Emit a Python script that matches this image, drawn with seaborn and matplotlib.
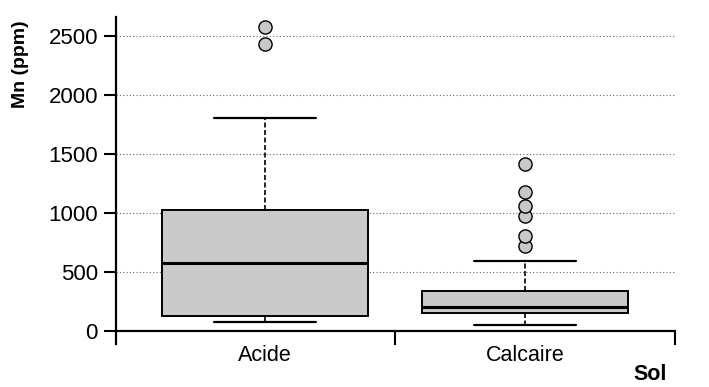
import pandas as pd
import matplotlib.pyplot as plt
import seaborn as sns

# five-number summaries (ppm)
sols = ["Acide", "Calcaire"]
acide_stats = [80, 130, 575, 1030, 1810]      # low whisker, Q1, median, Q3, high whisker
calcaire_stats = [50, 152, 202, 337, 590]
acide_outliers = [2436, 2580]
calcaire_outliers = [725, 810, 978, 1062, 1180, 1416]

y_ticks = [0, 500, 1000, 1500, 2000, 2500]

box_df = pd.DataFrame({
    "Sol": [sols[0]] * len(acide_stats) + [sols[1]] * len(calcaire_stats),
    "Mn": acide_stats + calcaire_stats,
})
out_df = pd.DataFrame({
    "Sol": [sols[0]] * len(acide_outliers) + [sols[1]] * len(calcaire_outliers),
    "Mn": acide_outliers + calcaire_outliers,
})

sns.set_style("white")
plt.rcParams["font.family"] = ["Liberation Sans", "DejaVu Sans"]
plt.rcParams["text.color"] = "black"
plt.rcParams["axes.labelcolor"] = "black"
plt.rcParams["xtick.color"] = "black"
plt.rcParams["ytick.color"] = "black"

fig = plt.figure(figsize=(7.09, 3.87), dpi=100)
ax = fig.add_axes([116 / 709, 1 - 331 / 387, 559 / 709, 314 / 387])

for y in y_ticks[1:]:
    ax.axhline(y, color="#666666", lw=0.8, ls=(0, (1, 2)), zorder=0)

sns.boxplot(
    data=box_df, x="Sol", y="Mn", order=sols, whis=(0, 100), width=0.79,
    color="#cacaca", saturation=1, linecolor="black", linewidth=1.4,
    medianprops={"linewidth": 2.2, "color": "black"},
    whiskerprops={"linestyle": (0, (3, 1.5)), "linewidth": 1.2},
    capprops={"linewidth": 1.6},
    ax=ax, zorder=2,
)
sns.stripplot(
    data=out_df, x="Sol", y="Mn", order=sols, jitter=False, size=9.5,
    color="#c8c8c8", edgecolor="black", linewidth=1.0, ax=ax, zorder=3,
)

ax.set_xlim(-0.573, 1.577)
ax.set_ylim(0, 2664)

ax.set_yticks(y_ticks)
ax.set_yticklabels([str(v) for v in y_ticks], fontsize=16)
ax.tick_params(axis="y", direction="out", length=9, width=1.5, left=True, pad=4)

# category labels centred under boxes, tick marks between categories
ax.set_xticks([0.5, 1.577])
ax.set_xticklabels(["", ""])
ax.set_xticks([0, 1], minor=True)
ax.set_xticklabels(sols, minor=True, fontsize=15.5)
ax.tick_params(axis="x", which="major", direction="out", length=10, width=1.5, bottom=True)
ax.tick_params(axis="x", which="minor", length=0, pad=10)

for side in ["top", "right"]:
    ax.spines[side].set_visible(False)
for side in ["left", "bottom"]:
    ax.spines[side].set_linewidth(1.6)
    ax.spines[side].set_color("black")
ax.spines["left"].set_bounds(-110, 2664)

ax.set_xlabel("")
ax.set_ylabel("Mn (ppm)", fontsize=14, fontweight="bold")
ax.yaxis.set_label_coords(-0.155, 0.85)

fig.text(650 / 709, 1 - 375 / 387, "Sol", fontsize=15.5, fontweight="bold", ha="center", va="center")

plt.savefig("out.png", dpi=100)
plt.close()
